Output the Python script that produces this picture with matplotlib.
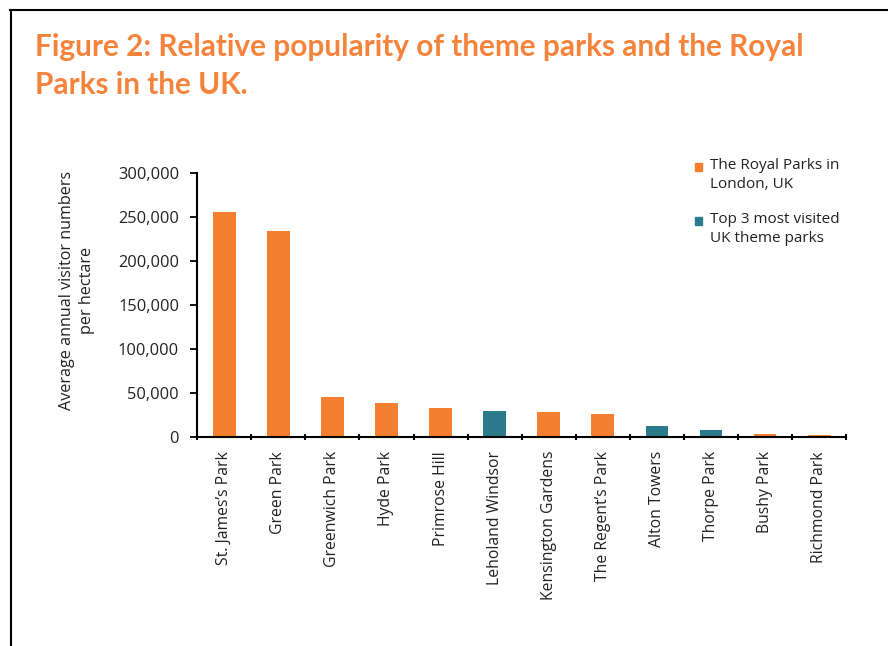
import matplotlib.pyplot as plt
from matplotlib.lines import Line2D
from matplotlib.patches import Rectangle
from matplotlib.ticker import FuncFormatter, FixedLocator

# data
parks = ['St. James’s Park', 'Green Park', 'Greenwich Park', 'Hyde Park',
         'Primrose Hill', 'Leholand Windsor', 'Kensington Gardens',
         'The Regent’s Park', 'Alton Towers', 'Thorpe Park', 'Bushy Park',
         'Richmond Park']
visitors = [255500, 234000, 45500, 38800, 33000, 29500, 28500, 26000,
            12500, 8000, 3500, 2300]
is_theme = [False, False, False, False, False, True, False, False,
            True, True, False, False]
legend_labels = ['The Royal Parks in\nLondon, UK',
                 'Top 3 most visited\nUK theme parks']

orange = '#F47F31'
teal = '#2C7B8C'
title_col = '#F5833C'

plt.rcParams['font.family'] = ['Open Sans', 'DejaVu Sans']

fig = plt.figure(figsize=(8.88, 6.46), dpi=100)
ax = fig.add_axes([0.222, 0.3235, 0.731, 0.4085])

colors = [teal if t else orange for t in is_theme]
x = range(len(parks))
ax.bar(x, visitors, width=0.42, color=colors)

ax.set_xlim(-0.5, len(parks) - 0.5)
ax.set_ylim(0, 300000)
ax.set_yticks(range(0, 300001, 50000))
ax.yaxis.set_major_formatter(FuncFormatter(lambda v, p: f'{int(v):,}'))
ax.set_xticks(list(x))
ax.set_xticklabels(parks, rotation=90, fontsize=11.3, color='#222222')
ax.tick_params(axis='x', length=0, pad=10)
ax.xaxis.set_minor_locator(FixedLocator([i - 0.5 for i in range(len(parks) + 1)]))
ax.tick_params(axis='x', which='minor', length=5, direction='inout', width=1.5)
ax.tick_params(axis='y', length=5, width=1.3, labelsize=11.8, labelcolor='#222222', pad=8)
for s in ['top', 'right']:
    ax.spines[s].set_visible(False)
for s in ['left', 'bottom']:
    ax.spines[s].set_linewidth(1.5)

ax.set_ylabel('Average annual visitor numbers\nper hectare', fontsize=11.6,
              color='#222222', linespacing=1.3)
ax.yaxis.set_label_coords(-0.158, 0.557)

# legend drawn by hand so the squares line up with the first text line
for i, (lab, col) in enumerate(zip(legend_labels, [orange, teal])):
    yy = 1.024 - i * 0.205
    ax.add_patch(Rectangle((0.767, yy - 0.015), 0.011, 0.03, color=col,
                           transform=ax.transAxes, clip_on=False))
    ax.text(0.79, yy + 0.032, lab, transform=ax.transAxes, fontsize=11,
            va='top', ha='left', color='#222222', linespacing=1.3)

fig.text(0.039, 0.898, 'Figure 2: Relative popularity of theme parks and the Royal\nParks in the UK.',
         fontsize=21.4, fontweight='bold', color=title_col, family=['Lato', 'DejaVu Sans'],
         va='center', ha='left', linespacing=1.45)

# page border
fig.add_artist(Line2D([10 / 888, 1], [1 - 10 / 646] * 2, color='black', lw=1.5,
                      transform=fig.transFigure))
fig.add_artist(Line2D([11 / 888] * 2, [0, 1 - 10 / 646], color='black', lw=1.5,
                      transform=fig.transFigure))

fig.savefig('out.png', dpi=100)
